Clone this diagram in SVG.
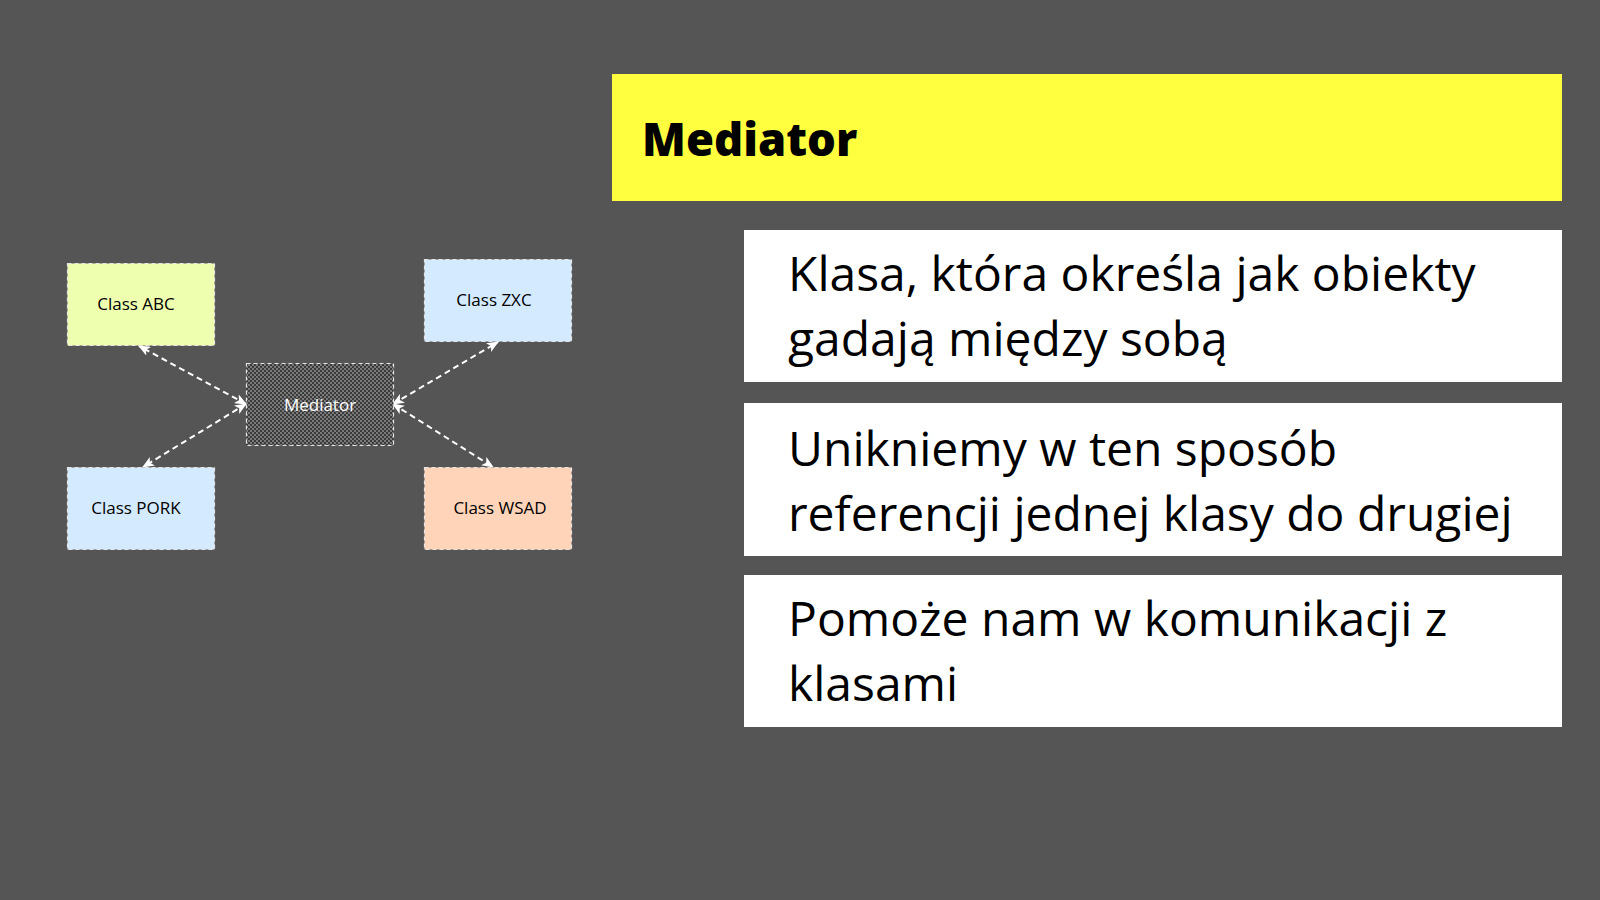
<svg xmlns="http://www.w3.org/2000/svg" width="1600" height="900" viewBox="0 0 1600 900">
<defs>
<style>
.node rect{stroke:#e6e6e6;stroke-width:1.2;stroke-dasharray:4 3}
.node text{font-family:"Open Sans","Noto Sans",sans-serif;font-size:17px;fill:#000;text-anchor:middle}
.conn line{stroke:#ffffff;stroke-width:2;stroke-dasharray:6 4;fill:none}
.card rect{fill:#ffffff}
.card text{font-family:"Open Sans","Noto Sans",sans-serif;font-size:48px;fill:#000}
</style>
<pattern id="chk" width="4" height="4" patternUnits="userSpaceOnUse">
<rect width="4" height="4" fill="#3a3a3a"/>
<rect width="2" height="2" fill="#7a7a7a"/>
<rect x="2" y="2" width="2" height="2" fill="#7a7a7a"/>
</pattern>
<marker id="arr" viewBox="0 0 12 10" refX="11" refY="5" markerWidth="12" markerHeight="10" markerUnits="userSpaceOnUse" orient="auto-start-reverse">
<path d="M0,0 L12,5 L0,10 L3,5 Z" fill="#ffffff"/>
</marker>
</defs>
<rect width="1600" height="900" fill="#555555"/>

<g id="title">
<rect x="612" y="74" width="950" height="127" fill="#ffff40"/>
<text x="642" y="155.5" font-family="'Open Sans','Noto Sans',sans-serif" font-weight="800" font-size="45.4px" fill="#000">Mediator</text>
</g>

<g id="connectors" class="conn">
<line x1="246" y1="404" x2="139" y2="346" marker-start="url(#arr)" marker-end="url(#arr)"/>
<line x1="246" y1="404" x2="143" y2="467" marker-start="url(#arr)" marker-end="url(#arr)"/>
<line x1="393" y1="404" x2="498" y2="342" marker-start="url(#arr)" marker-end="url(#arr)"/>
<line x1="393" y1="404" x2="493" y2="467" marker-start="url(#arr)" marker-end="url(#arr)"/>
</g>

<g id="classABC" class="node">
<rect x="67.5" y="263.5" width="147" height="82" fill="#eeffb0"/>
<text x="136" y="310">Class ABC</text>
</g>
<g id="classZXC" class="node">
<rect x="424.5" y="259.5" width="147" height="82" fill="#d4ebff"/>
<text x="494" y="306">Class ZXC</text>
</g>
<g id="mediator" class="node">
<rect x="246.5" y="363.5" width="147" height="82" fill="url(#chk)"/>
<text x="320" y="410.5" style="fill:#ffffff">Mediator</text>
</g>
<g id="classPORK" class="node">
<rect x="67.5" y="467.5" width="147" height="82" fill="#d4ebff"/>
<text x="136" y="514">Class PORK</text>
</g>
<g id="classWSAD" class="node">
<rect x="424.5" y="467.5" width="147" height="82" fill="#ffd4b8"/>
<text x="500" y="514">Class WSAD</text>
</g>

<g id="card1" class="card">
<rect x="744" y="230" width="818" height="152"/>
<text x="788" y="291">Klasa, która określa jak obiekty</text>
<text x="788" y="356">gadają między sobą</text>
</g>
<g id="card2" class="card">
<rect x="744" y="403" width="818" height="153"/>
<text x="788" y="466">Unikniemy w ten sposób</text>
<text x="788" y="531">referencji jednej klasy do drugiej</text>
</g>
<g id="card3" class="card">
<rect x="744" y="575" width="818" height="152"/>
<text x="788" y="636">Pomoże nam w komunikacji z</text>
<text x="788" y="701">klasami</text>
</g>
</svg>
